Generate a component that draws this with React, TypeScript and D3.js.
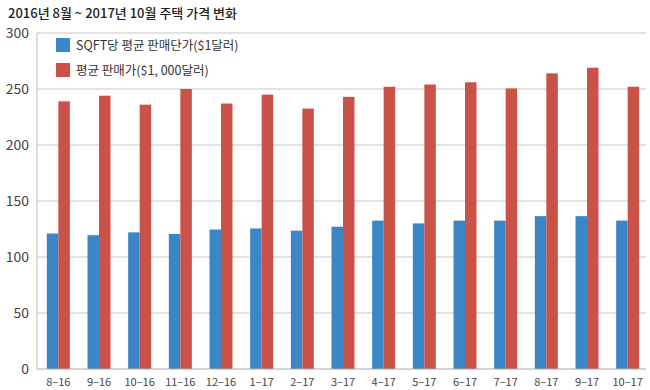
import * as d3 from "d3";
import { useEffect, useRef } from "react";

const months = ["8-16", "9-16", "10-16", "11-16", "12-16", "1-17", "2-17", "3-17", "4-17", "5-17", "6-17", "7-17", "8-17", "9-17", "10-17"];
const pricePerSqft = [121, 119.5, 122, 120.5, 124.5, 125.5, 123.5, 127, 132.5, 130, 132.5, 132.5, 136.5, 136.5, 132.5];
const salePrice = [239, 244, 236, 250, 237, 245, 232.5, 243, 252, 254, 256, 250.5, 264, 269, 252];
const yTicks = [0, 50, 100, 150, 200, 250, 300];
const seriesNames = ["SQFT당 평균 판매단가($1달러)", "평균 판매가($1, 000달러)"];
const colors = ["#3b86c6", "#cb5249"];

const W = 650;
const H = 390;
const margin = { top: 33, right: 3, bottom: 21, left: 37 };

export default function App() {
  const svgRef = useRef(null);

  useEffect(() => {
    const svg = d3.select(svgRef.current);
    svg.selectAll("*").remove();

    const x = d3.scaleBand().domain(months).range([margin.left, W - margin.right]).padding(0);
    const y = d3.scaleLinear().domain([0, 300]).range([H - margin.bottom, margin.top]);
    const inner = d3.scaleBand().domain(["a", "b"]).range([0, 23]).padding(0);

    const font = "'Noto Sans CJK KR', 'Noto Sans', sans-serif";

    // gridlines
    svg
      .append("g")
      .selectAll("line")
      .data(yTicks.filter((t) => t > 0))
      .enter()
      .append("line")
      .attr("x1", margin.left)
      .attr("x2", W - 4)
      .attr("y1", (d) => y(d))
      .attr("y2", (d) => y(d))
      .attr("stroke", "#c6c6c6")
      .attr("stroke-width", 1.2);

    // y labels
    svg
      .append("g")
      .selectAll("text")
      .data(yTicks)
      .enter()
      .append("text")
      .attr("x", 29)
      .attr("y", (d) => y(d) + 5)
      .attr("text-anchor", "end")
      .attr("font-family", font)
      .attr("font-size", 14)
      .attr("fill", "#444")
      .text((d) => d);

    const groups = svg
      .append("g")
      .selectAll("g")
      .data(months)
      .enter()
      .append("g")
      .attr("transform", (d) => `translate(${(x(d) || 0) + x.bandwidth() / 2 - 11.5 + 1},0)`);

    groups
      .append("rect")
      .attr("x", inner("a") || 0)
      .attr("width", inner.bandwidth())
      .attr("y", (_, i) => y(pricePerSqft[i]))
      .attr("height", (_, i) => y(0) - y(pricePerSqft[i]))
      .attr("fill", colors[0]);

    groups
      .append("rect")
      .attr("x", inner("b") || 0)
      .attr("width", inner.bandwidth())
      .attr("y", (_, i) => y(salePrice[i]))
      .attr("height", (_, i) => y(0) - y(salePrice[i]))
      .attr("fill", colors[1]);

    // axis lines
    svg
      .append("line")
      .attr("x1", margin.left)
      .attr("x2", margin.left)
      .attr("y1", y(300))
      .attr("y2", y(0))
      .attr("stroke", "#bbb");
    svg
      .append("line")
      .attr("x1", margin.left)
      .attr("x2", W - 4)
      .attr("y1", y(0))
      .attr("y2", y(0))
      .attr("stroke", "#aaa")
      .attr("stroke-width", 1.2);

    // x labels
    svg
      .append("g")
      .selectAll("text")
      .data(months)
      .enter()
      .append("text")
      .attr("x", (d) => (x(d) || 0) + x.bandwidth() / 2 + 1)
      .attr("y", 386)
      .attr("text-anchor", "middle")
      .attr("font-family", font)
      .attr("font-size", 11)
      .attr("fill", "#444")
      .text((d) => d.replace("-", "–"));

    // title
    svg
      .append("text")
      .attr("x", 8)
      .attr("y", 18)
      .attr("font-family", font)
      .attr("font-size", 13)
      .attr("font-weight", 500)
      .attr("fill", "#222")
      .text("2016년 8월 ~ 2017년 10월 주택 가격 변화");

    // legend
    const legend = svg
      .append("g")
      .selectAll("g")
      .data(seriesNames)
      .enter()
      .append("g")
      .attr("transform", (_, i) => `translate(56,${38 + i * 25})`);
    legend
      .append("rect")
      .attr("width", 14)
      .attr("height", 14)
      .attr("fill", (_, i) => colors[i]);
    legend
      .append("text")
      .attr("x", 20)
      .attr("y", 12)
      .attr("font-family", font)
      .attr("font-size", 12.5)
      .attr("fill", "#333")
      .text((d) => d);
  }, []);

  return (
    <svg
      ref={svgRef}
      width={W}
      height={H}
      style={{ position: "absolute", left: 0, top: 0, background: "#fff" }}
    ></svg>
  );
}
